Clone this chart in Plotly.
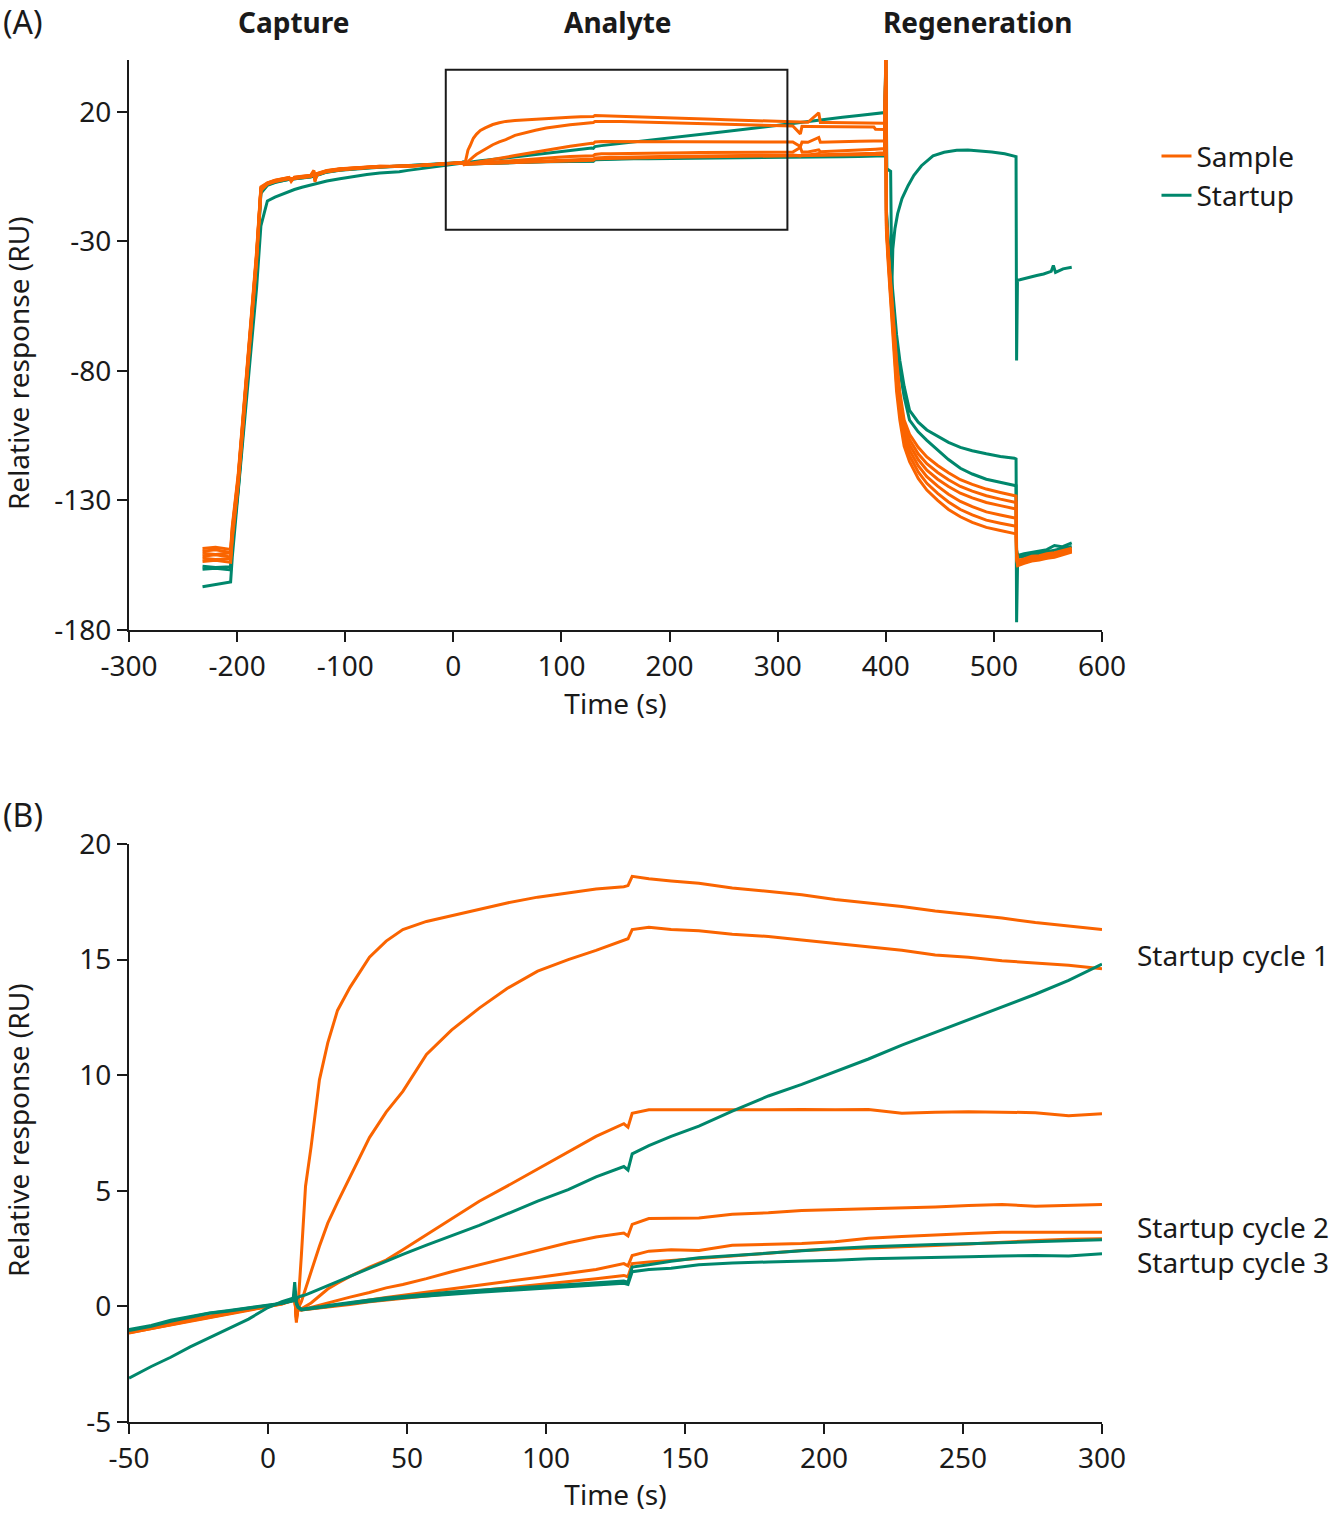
import plotly.graph_objects as go

SAMPLE_COLOR = "#fa6400"
STARTUP_COLOR = "#00876c"
TEXT_COLOR = "#1a1a1a"
FONT = "Noto Sans"

# ---- time grids (s) ----
T_CAPTURE = [-232, -220, -206, -204.5, -199, -193, -187, -182, -178, -172,
             -165, -158, -152, -150, -147, -140, -132, -129, -128, -126,
             -117, -105, -93, -80, -68, -58]

T_BINDING = [-50, -42, -35, -28, -21, -14, -7, 0,
             5, 9, 9.6, 10.2, 10.8,
             12, 13.5, 15.5, 18.5, 21.5, 25, 29.5,
             36.5, 42.5, 48.5, 57, 66, 76, 86, 97, 108, 118,
             128, 129.5, 131, 137, 145, 155, 167, 180, 192, 204,
             216, 228, 240, 252, 264, 276, 288, 300]

T_REGEN = [306, 314, 321, 322.5, 328, 338, 339.5, 346, 360, 375, 389, 390.5, 399,
           400, 400.6,
           402, 404, 407, 410, 413, 417, 422, 430, 438, 448, 458, 469, 480, 493, 506, 519, 520.5,
           521, 522, 528, 535, 542, 549, 556, 563, 572]

T_REGEN_STARTUP_1 = [306, 314, 321, 328, 338, 346, 360, 375, 389, 399,
                     400, 401, 404.5, 405.6, 406.5, 408.5, 411, 415, 420.6, 426,
                     433, 443.7, 454, 465.6, 476, 487, 498, 510, 520.5, 521,
                     521.8, 524, 531, 539.6, 546, 553, 555, 557, 564, 572]

# ---- sample cycles (RU) ----
SAMPLE_CAPTURE = [
    [-148.5, -148.1, -148.9, -140, -120, -89, -59, -34, -9, -7.4, -6.4, -5.8, -5.3, -6.9,
     -5.2, -4.9, -4.5, -2.6, -7.0, -3.8, -2.6, -2.0, -1.6, -1.3, -1.0, -1.15],
    [-149.6, -149.0, -150.1, -141, -121, -90, -60, -35, -9.3, -7.5, -6.5, -5.9, -5.4, -6.6,
     -5.3, -5.0, -4.6, -3.0, -6.5, -3.9, -2.7, -2.1, -1.7, -1.35, -1.05, -1.1],
    [-150.4, -150.9, -150.2, -142, -121.5, -90.5, -60.5, -35.5, -9.6, -7.6, -6.6, -5.9, -5.5, -6.3,
     -5.4, -5.1, -4.7, -3.3, -6.2, -4.0, -2.8, -2.1, -1.7, -1.4, -1.1, -1.1],
    [-151.5, -151.0, -151.8, -143, -122, -91, -61, -36, -9.8, -7.7, -6.7, -6.0, -5.6, -6.0,
     -5.5, -5.2, -4.8, -3.6, -5.9, -4.1, -2.9, -2.2, -1.8, -1.45, -1.15, -1.05],
    [-152.3, -152.8, -152.5, -144, -123, -92, -62, -37, -10, -7.8, -6.8, -6.1, -5.7, -5.8,
     -5.6, -5.3, -4.9, -3.9, -5.6, -4.2, -3.0, -2.3, -1.85, -1.5, -1.2, -1.1],
    [-153.6, -153.1, -153.9, -145, -124, -93, -63, -38, -10.3, -7.9, -6.9, -6.2, -5.8, -6.0,
     -5.7, -5.4, -5.0, -4.2, -5.4, -4.3, -3.1, -2.4, -1.9, -1.55, -1.25, -1.15],
]

SAMPLE_BINDING = [
    [-1.15, -0.95, -0.8, -0.62, -0.47, -0.3, -0.15, 0.0,
     0.12, 0.28, 0.55, -0.7, 0.0,
     2.2, 5.2, 6.9, 9.8, 11.4, 12.8, 13.8,
     15.1, 15.8, 16.3, 16.65, 16.9, 17.2, 17.45, 17.7, 17.9, 18.05,
     18.15, 18.2, 18.6, 18.5, 18.4, 18.3, 18.1, 17.95, 17.8, 17.6,
     17.45, 17.3, 17.1, 16.95, 16.8, 16.6, 16.45, 16.3],
    [-1.1, -0.92, -0.77, -0.6, -0.45, -0.28, -0.14, 0.02,
     0.13, 0.3, 0.5, -0.6, -0.1,
     0.2, 0.8, 1.5, 2.6, 3.6, 4.5, 5.6,
     7.3, 8.4, 9.3, 10.9, 11.95, 12.9, 13.75, 14.5, 15.0, 15.4,
     15.85, 15.9, 16.3, 16.4, 16.3, 16.25, 16.1, 16.0, 15.85, 15.7,
     15.55, 15.4, 15.2, 15.1, 14.95, 14.85, 14.75, 14.6],
    [-1.08, -0.9, -0.76, -0.58, -0.44, -0.27, -0.13, 0.01,
     0.14, 0.32, 0.45, -0.5, -0.1,
     -0.1, 0.0, 0.15, 0.45, 0.75, 1.0, 1.3,
     1.7, 2.0, 2.45, 3.1, 3.8, 4.55, 5.2, 5.95, 6.7, 7.35,
     7.9, 7.75, 8.35, 8.5, 8.5, 8.5, 8.48, 8.5, 8.52, 8.5,
     8.52, 8.35, 8.4, 8.42, 8.4, 8.38, 8.25, 8.33],
    [-1.12, -0.93, -0.79, -0.61, -0.46, -0.29, -0.14, -0.01,
     0.11, 0.27, 0.4, -0.45, -0.12,
     -0.15, -0.1, -0.05, 0.05, 0.15, 0.25, 0.4,
     0.6, 0.8, 0.95, 1.2, 1.5, 1.8, 2.1, 2.45, 2.75, 3.0,
     3.17, 3.05, 3.55, 3.8, 3.8, 3.82, 3.98, 4.05, 4.15, 4.18,
     4.22, 4.27, 4.3, 4.36, 4.41, 4.33, 4.38, 4.41],
    [-1.06, -0.89, -0.75, -0.57, -0.43, -0.26, -0.12, 0.0,
     0.12, 0.29, 0.35, -0.3, -0.13,
     -0.15, -0.12, -0.1, -0.05, 0.0, 0.07, 0.15,
     0.28, 0.38, 0.48, 0.62, 0.77, 0.93, 1.08, 1.25, 1.42, 1.6,
     1.85, 1.75, 2.2, 2.39, 2.45, 2.42, 2.64, 2.68, 2.72, 2.8,
     2.95, 3.02, 3.1, 3.15, 3.21, 3.2, 3.22, 3.21],
    [-1.14, -0.96, -0.81, -0.63, -0.48, -0.31, -0.16, -0.02,
     0.1, 0.26, 0.3, -0.2, -0.14,
     -0.16, -0.14, -0.12, -0.08, -0.04, 0.02, 0.08,
     0.2, 0.28, 0.35, 0.45, 0.56, 0.68, 0.8, 0.93, 1.07, 1.2,
     1.34, 1.28, 1.85, 1.92, 1.98, 2.06, 2.18, 2.3, 2.42, 2.47,
     2.52, 2.56, 2.63, 2.7, 2.78, 2.85, 2.9, 2.93],
]

SAMPLE_REGEN = [
    [16.2, 16.15, 16.0, 16.05, 15.95, 19.6, 15.9, 15.85, 15.8, 15.7, 15.65, 15.6, 15.6,
     40, -20,
     -32, -44, -58, -76, -88, -99, -104.5, -109.5, -113.2, -116.5, -119.3, -122, -123.8,
     -125.6, -126.9, -128, -128.3,
     -150, -153.2, -152.6, -151.5, -151.3, -150.6, -150.2, -149.4, -148.4],
    [14.55, 14.5, 11.5, 14.4, 14.35, 14.3, 14.3, 14.25, 14.2, 14.15, 14.1, 13.3, 13.2,
     40, -22,
     -33, -45, -60, -78, -90, -101, -106.5, -112, -115.8, -119.2, -122, -124.6, -126.4,
     -128.2, -129.5, -130.5, -130.8,
     -150.5, -153.8, -153.0, -152.2, -151.6, -151.2, -150.5, -149.9, -148.8],
    [8.35, 8.35, 6.6, 8.3, 8.25, 10.1, 8.3, 8.4, 8.5, 8.6, 8.7, 8.7, 8.8,
     40, -23,
     -34, -46, -62, -80, -92, -103, -108.5, -114.2, -118.3, -121.8, -124.6, -127.2, -129,
     -130.8, -132, -133.1, -133.3,
     -151, -154.2, -153.3, -152.4, -152.3, -151.4, -150.9, -150.1, -149.1],
    [4.42, 4.45, 6.2, 4.5, 4.5, 5.3, 4.6, 4.7, 4.9, 5.2, 5.5, 5.6, 5.8,
     40, -24,
     -35, -47, -64, -82, -94, -105, -110.6, -116.6, -120.8, -124.5, -127.6, -130.4, -132.4,
     -134.4, -135.6, -136.6, -136.9,
     -151.5, -154.5, -153.7, -152.8, -152.0, -151.7, -151.2, -150.4, -149.4],
    [3.25, 3.3, 3.0, 3.3, 3.35, 3.9, 3.4, 3.45, 3.6, 3.8, 4.0, 4.0, 4.2,
     40, -25,
     -36, -48, -66, -85, -96.5, -107, -112.7, -119, -123.4, -127.3, -130.6, -133.5, -135.6,
     -137.6, -138.8, -139.7, -140,
     -152, -154.8, -154.0, -153.1, -152.6, -152.0, -151.6, -150.6, -149.6],
    [2.95, 3.0, 3.05, 3.05, 3.1, 3.2, 3.15, 3.2, 3.3, 3.4, 3.5, 3.5, 3.6,
     40, -26,
     -37, -50, -70, -88, -99, -109, -115, -121.5, -126, -130, -133.5, -136.3, -138.5,
     -140.4, -141.6, -142.6, -142.9,
     -152.5, -155.2, -154.3, -153.4, -153.0, -152.3, -151.9, -150.9, -149.9],
]

# ---- startup cycles 1-3 (RU) ----
STARTUP_CAPTURE = [
    [-163.3, -162.4, -161.5, -152, -127, -100, -72, -48, -24, -14.4, -12.9, -11.7, -10.7, -10.4,
     -10.0, -9.1, -8.2, -7.9, -7.8, -7.6, -6.7, -5.8, -4.9, -4.2, -3.6, -3.35],
    [-155.4, -155.9, -155.6, -146, -125, -94, -64, -39, -11, -8.2, -7.1, -6.4, -5.9, -5.9,
     -5.8, -5.5, -5.1, -4.6, -5.2, -4.4, -3.2, -2.5, -2.0, -1.6, -1.3, -1.15],
    [-156.6, -156.2, -156.8, -147, -126, -95, -65, -40, -11.5, -8.4, -7.3, -6.5, -6.0, -6.0,
     -5.9, -5.6, -5.2, -4.9, -5.3, -4.5, -3.3, -2.6, -2.1, -1.7, -1.35, -1.2],
]

STARTUP_BINDING = [
    [-3.1, -2.6, -2.2, -1.75, -1.35, -0.95, -0.55, -0.05,
     0.2, 0.35, 0.45, 0.3, 0.4,
     0.45, 0.5, 0.6, 0.75, 0.9, 1.1, 1.3,
     1.65, 1.95, 2.25, 2.65, 3.05, 3.5, 4.0, 4.55, 5.05, 5.6,
     6.05, 5.9, 6.6, 6.95, 7.35, 7.8, 8.45, 9.1, 9.6, 10.15,
     10.7, 11.3, 11.85, 12.4, 12.95, 13.5, 14.1, 14.8],
    [-1.04, -0.86, -0.64, -0.47, -0.3, -0.2, -0.08, 0.03,
     0.13, 0.26, 1.05, 0.2, 0.0,
     -0.12, -0.1, -0.08, -0.02, 0.04, 0.1, 0.18,
     0.28, 0.36, 0.44, 0.53, 0.62, 0.7, 0.79, 0.88, 0.96, 1.03,
     1.1, 1.05, 1.7, 1.8, 1.95, 2.1, 2.2, 2.3, 2.42, 2.5,
     2.58, 2.64, 2.68, 2.71, 2.76, 2.8, 2.84, 2.88],
    [-1.0, -0.82, -0.6, -0.44, -0.28, -0.18, -0.06, 0.04,
     0.14, 0.24, 0.5, 0.1, -0.05,
     -0.15, -0.13, -0.1, -0.05, 0.0, 0.06, 0.13,
     0.22, 0.3, 0.37, 0.45, 0.53, 0.61, 0.69, 0.77, 0.85, 0.93,
     1.0, 0.95, 1.5, 1.6, 1.65, 1.8, 1.88, 1.92, 1.95, 2.0,
     2.06, 2.1, 2.12, 2.15, 2.18, 2.2, 2.18, 2.28],
]

STARTUP_1_REGEN = [15.1, 15.5, 15.9, 16.3, 16.8, 17.2, 17.9, 18.6, 19.2, 19.7,
                   40, -2, -3, -48, -33, -25, -19.3, -13.5, -8.5, -4.5,
                   -0.8, 3.0, 4.4, 5.2, 5.3, 5.0, 4.5, 3.8, 2.7, -76,
                   -45, -44.8, -44.0, -43.2, -42.6, -41.6, -39.3, -42.0, -40.6, -40.0]

STARTUP_23_REGEN = [
    [2.9, 2.92, 2.95, 2.95, 2.97, 3.0, 3.0, 3.02, 3.05, 3.1, 3.15, 3.15, 3.2,
     40, -18,
     -28, -38, -52, -66, -76, -86, -95.2, -99.8, -102.8, -105.3, -107.6, -109.5, -110.8,
     -112, -113, -113.7, -114,
     -149, -151.2, -150.6, -150.0, -149.6, -149.0, -147.4, -147.9, -146.4],
    [2.3, 2.35, 2.4, 2.4, 2.45, 2.5, 2.5, 2.55, 2.65, 2.75, 2.85, 2.9, 3.0,
     40, -19,
     -30, -40, -55, -70, -80, -90, -99, -103.5, -106.8, -110.5, -114.2, -117.6, -119.8,
     -121.8, -123, -124, -124.3,
     -177, -152, -151.5, -151.0, -150.5, -149.8, -149.2, -148.6, -147.8],
]

# ---- axes, labels, annotations ----
A_X_TICKS = [-300, -200, -100, 0, 100, 200, 300, 400, 500, 600]
A_X_LABELS = ["-300", "-200", "-100", "0", "100", "200", "300", "400", "500", "600"]
A_Y_TICKS = [20, -30, -80, -130, -180]
A_Y_LABELS = ["20", "-30", "-80", "-130", "-180"]
B_X_TICKS = [-50, 0, 50, 100, 150, 200, 250, 300]
B_X_LABELS = ["-50", "0", "50", "100", "150", "200", "250", "300"]
B_Y_TICKS = [-5, 0, 5, 10, 15, 20]
B_Y_LABELS = ["-5", "0", "5", "10", "15", "20"]

PHASES = ["Capture", "Analyte", "Regeneration"]
PHASE_CENTERS = [-148, 152, 485]

ZOOM_BOX_T = [-7, 309]
ZOOM_BOX_RU = [-25.5, 36.2]

CYCLE_LABELS = ["Startup cycle 1", "Startup cycle 2", "Startup cycle 3"]
CYCLE_LABEL_RU = [15.2, 3.45, 1.9]

LINE_W = 3


def line_trace(t, y, color, xa, ya):
    return go.Scatter(
        x=t, y=y, mode="lines", xaxis=xa, yaxis=ya,
        line=dict(color=color, width=LINE_W),
        hoverinfo="skip", showlegend=False,
    )


fig = go.Figure()

# panel A: full cycles, startup under sample
for i in range(3):
    if i == 0:
        t_reg, y_reg = T_REGEN_STARTUP_1, STARTUP_1_REGEN
    else:
        t_reg, y_reg = T_REGEN, STARTUP_23_REGEN[i - 1]
    fig.add_trace(line_trace(T_CAPTURE + T_BINDING + t_reg,
                             STARTUP_CAPTURE[i] + STARTUP_BINDING[i] + y_reg,
                             STARTUP_COLOR, "x", "y"))
for i in range(6):
    fig.add_trace(line_trace(T_CAPTURE + T_BINDING + T_REGEN,
                             SAMPLE_CAPTURE[i] + SAMPLE_BINDING[i] + SAMPLE_REGEN[i],
                             SAMPLE_COLOR, "x", "y"))

# panel B: binding phase only
for i in range(6):
    fig.add_trace(line_trace(T_BINDING, SAMPLE_BINDING[i], SAMPLE_COLOR, "x2", "y2"))
for i in range(3):
    fig.add_trace(line_trace(T_BINDING, STARTUP_BINDING[i], STARTUP_COLOR, "x2", "y2"))

# legend entries
for name, color in [("Sample", SAMPLE_COLOR), ("Startup", STARTUP_COLOR)]:
    fig.add_trace(go.Scatter(x=[None], y=[None], mode="lines", name=name,
                             line=dict(color=color, width=LINE_W), showlegend=True))

axis_style = dict(
    showline=True, linecolor=TEXT_COLOR, linewidth=2,
    ticks="outside", ticklen=10, tickwidth=2, tickcolor=TEXT_COLOR,
    showgrid=False, zeroline=False,
    tickfont=dict(family=FONT, size=28, color=TEXT_COLOR),
)
xtitle = dict(text="Time (s)", font=dict(family=FONT, size=28, color=TEXT_COLOR), standoff=6)

fig.update_layout(
    width=1340, height=1513,
    paper_bgcolor="white", plot_bgcolor="white",
    margin=dict(l=129, r=238, t=60, b=91),
    font=dict(family=FONT, color=TEXT_COLOR),
    xaxis=dict(axis_style, domain=[0, 1], anchor="y", range=[-300, 600],
               tickvals=A_X_TICKS, ticktext=A_X_LABELS, title=xtitle),
    yaxis=dict(axis_style, domain=[0.5815, 1], anchor="x", range=[-180, 40],
               tickvals=A_Y_TICKS, ticktext=A_Y_LABELS),
    xaxis2=dict(axis_style, domain=[0, 1], anchor="y2", range=[-50, 300],
                tickvals=B_X_TICKS, ticktext=B_X_LABELS, title=xtitle),
    yaxis2=dict(axis_style, domain=[0, 0.4244], anchor="x2", range=[-5, 20],
                tickvals=B_Y_TICKS, ticktext=B_Y_LABELS),
    legend=dict(x=1.056, y=0.915, xanchor="left", yanchor="middle",
                font=dict(family=FONT, size=28, color=TEXT_COLOR),
                bgcolor="rgba(0,0,0,0)", tracegroupgap=0),
)

fig.add_shape(type="rect", xref="x", yref="y",
              x0=ZOOM_BOX_T[0], x1=ZOOM_BOX_T[1], y0=ZOOM_BOX_RU[0], y1=ZOOM_BOX_RU[1],
              line=dict(color=TEXT_COLOR, width=2))

label_font = dict(family=FONT, size=28, color=TEXT_COLOR)
panel_font = dict(family=FONT, size=32, color=TEXT_COLOR)
for name, center in zip(PHASES, PHASE_CENTERS):
    fig.add_annotation(x=center, xref="x", y=1.028, yref="paper", text="<b>%s</b>" % name,
                       showarrow=False, font=label_font, xanchor="center", yanchor="middle")

fig.add_annotation(x=-0.1315, xref="paper", y=1.028, yref="paper", text="(A)",
                   showarrow=False, font=panel_font, xanchor="left", yanchor="middle")
fig.add_annotation(x=-0.1315, xref="paper", y=0.4457, yref="paper", text="(B)",
                   showarrow=False, font=panel_font, xanchor="left", yanchor="middle")

for yc in [(363 - 60) / 1362.0, (1130 - 60) / 1362.0]:
    fig.add_annotation(x=-0.114, xref="paper", y=1 - yc, yref="paper",
                       text="Relative response (RU)", textangle=-90, showarrow=False,
                       font=label_font, xanchor="center", yanchor="middle")

for text, ru in zip(CYCLE_LABELS, CYCLE_LABEL_RU):
    fig.add_annotation(x=1.034, xref="paper", y=ru, yref="y2", text=text,
                       showarrow=False, font=label_font, xanchor="left", yanchor="middle")

# the page body has a default 8px margin; drop it so the figure fills the window
fig.write_html("out.html", config={"displayModeBar": False},
               post_script="document.body.style.margin='0px';")
